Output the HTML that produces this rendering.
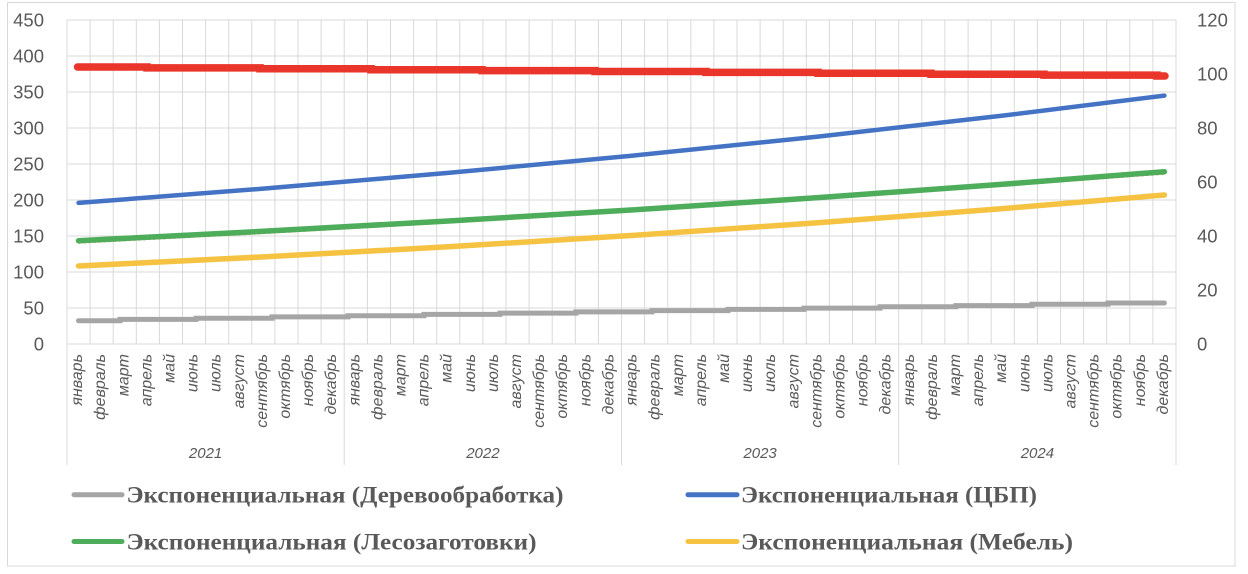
<!DOCTYPE html>
<html>
<head>
<meta charset="utf-8">
<style>
  html, body { margin: 0; padding: 0; background: #ffffff; }
  svg { display: block; }
  .tick { font-family: "Liberation Sans", sans-serif; font-size: 18.5px; fill: #595959; }
  .mon { font-family: "Liberation Sans", sans-serif; font-style: italic; font-size: 16px; fill: #595959; }
  .yr { font-family: "Liberation Sans", sans-serif; font-style: italic; font-size: 15px; fill: #595959; }
  .leg { font-family: "Liberation Serif", serif; font-weight: bold; font-size: 23.5px; fill: #595959; }
</style>
</head>
<body>
<svg width="1248" height="574" viewBox="0 0 1248 574" xmlns="http://www.w3.org/2000/svg">
  <rect x="0" y="0" width="1248" height="574" fill="#ffffff"/>
  <!-- outer border -->
  <rect x="7.5" y="2.5" width="1227.5" height="563.5" fill="none" stroke="#d9d9d9" stroke-width="1"/>

  <!-- horizontal gridlines -->
  <g stroke="#d9d9d9" stroke-width="1">
    <line x1="67" y1="20" x2="1176" y2="20"/>
    <line x1="67" y1="56" x2="1176" y2="56"/>
    <line x1="67" y1="92" x2="1176" y2="92"/>
    <line x1="67" y1="128" x2="1176" y2="128"/>
    <line x1="67" y1="164" x2="1176" y2="164"/>
    <line x1="67" y1="200" x2="1176" y2="200"/>
    <line x1="67" y1="236" x2="1176" y2="236"/>
    <line x1="67" y1="272" x2="1176" y2="272"/>
    <line x1="67" y1="308" x2="1176" y2="308"/>
    <line x1="67" y1="344" x2="1176" y2="344"/>
  </g>
  <!-- vertical gridlines -->
  <g stroke="#d9d9d9" stroke-width="1">
    <line x1="67" y1="20" x2="67" y2="465"/>
    <line x1="90.1" y1="20" x2="90.1" y2="344"/>
    <line x1="113.2" y1="20" x2="113.2" y2="344"/>
    <line x1="136.3" y1="20" x2="136.3" y2="344"/>
    <line x1="159.4" y1="20" x2="159.4" y2="344"/>
    <line x1="182.5" y1="20" x2="182.5" y2="344"/>
    <line x1="205.6" y1="20" x2="205.6" y2="344"/>
    <line x1="228.7" y1="20" x2="228.7" y2="344"/>
    <line x1="251.8" y1="20" x2="251.8" y2="344"/>
    <line x1="274.9" y1="20" x2="274.9" y2="344"/>
    <line x1="298" y1="20" x2="298" y2="344"/>
    <line x1="321.1" y1="20" x2="321.1" y2="344"/>
    <line x1="344.2" y1="20" x2="344.2" y2="465"/>
    <line x1="367.4" y1="20" x2="367.4" y2="344"/>
    <line x1="390.5" y1="20" x2="390.5" y2="344"/>
    <line x1="413.6" y1="20" x2="413.6" y2="344"/>
    <line x1="436.7" y1="20" x2="436.7" y2="344"/>
    <line x1="459.8" y1="20" x2="459.8" y2="344"/>
    <line x1="482.9" y1="20" x2="482.9" y2="344"/>
    <line x1="506" y1="20" x2="506" y2="344"/>
    <line x1="529.1" y1="20" x2="529.1" y2="344"/>
    <line x1="552.2" y1="20" x2="552.2" y2="344"/>
    <line x1="575.3" y1="20" x2="575.3" y2="344"/>
    <line x1="598.4" y1="20" x2="598.4" y2="344"/>
    <line x1="621.5" y1="20" x2="621.5" y2="465"/>
    <line x1="644.6" y1="20" x2="644.6" y2="344"/>
    <line x1="667.7" y1="20" x2="667.7" y2="344"/>
    <line x1="690.8" y1="20" x2="690.8" y2="344"/>
    <line x1="713.9" y1="20" x2="713.9" y2="344"/>
    <line x1="737" y1="20" x2="737" y2="344"/>
    <line x1="760.1" y1="20" x2="760.1" y2="344"/>
    <line x1="783.2" y1="20" x2="783.2" y2="344"/>
    <line x1="806.3" y1="20" x2="806.3" y2="344"/>
    <line x1="829.4" y1="20" x2="829.4" y2="344"/>
    <line x1="852.5" y1="20" x2="852.5" y2="344"/>
    <line x1="875.6" y1="20" x2="875.6" y2="344"/>
    <line x1="898.7" y1="20" x2="898.7" y2="465"/>
    <line x1="921.8" y1="20" x2="921.8" y2="344"/>
    <line x1="944.9" y1="20" x2="944.9" y2="344"/>
    <line x1="968.1" y1="20" x2="968.1" y2="344"/>
    <line x1="991.2" y1="20" x2="991.2" y2="344"/>
    <line x1="1014.3" y1="20" x2="1014.3" y2="344"/>
    <line x1="1037.4" y1="20" x2="1037.4" y2="344"/>
    <line x1="1060.5" y1="20" x2="1060.5" y2="344"/>
    <line x1="1083.6" y1="20" x2="1083.6" y2="344"/>
    <line x1="1106.7" y1="20" x2="1106.7" y2="344"/>
    <line x1="1129.8" y1="20" x2="1129.8" y2="344"/>
    <line x1="1152.9" y1="20" x2="1152.9" y2="344"/>
    <line x1="1176" y1="20" x2="1176" y2="465"/>
  </g>

  <!-- left axis labels -->
  <g class="tick" text-anchor="end">
    <text x="44" y="26.5">450</text>
    <text x="44" y="62.5">400</text>
    <text x="44" y="98.5">350</text>
    <text x="44" y="134.5">300</text>
    <text x="44" y="170.5">250</text>
    <text x="44" y="206.5">200</text>
    <text x="44" y="242.5">150</text>
    <text x="44" y="278.5">100</text>
    <text x="44" y="314.5">50</text>
    <text x="44" y="350.5">0</text>
  </g>
  <!-- right axis labels -->
  <g class="tick" text-anchor="start">
    <text x="1197" y="26.5">120</text>
    <text x="1197" y="80.5">100</text>
    <text x="1197" y="134.5">80</text>
    <text x="1197" y="188.5">60</text>
    <text x="1197" y="242.5">40</text>
    <text x="1197" y="296.5">20</text>
    <text x="1197" y="350.5">0</text>
  </g>

  <!-- month labels (rotated) -->
  <g class="mon" transform="rotate(-90)" text-anchor="end">
    <text x="-354" y="82.1">январь</text>
    <text x="-354" y="105.2">февраль</text>
    <text x="-354" y="128.3">март</text>
    <text x="-354" y="151.4">апрель</text>
    <text x="-354" y="174.5">май</text>
    <text x="-354" y="197.6">июнь</text>
    <text x="-354" y="220.7">июль</text>
    <text x="-354" y="243.8">август</text>
    <text x="-354" y="266.9">сентябрь</text>
    <text x="-354" y="290">октябрь</text>
    <text x="-354" y="313.1">ноябрь</text>
    <text x="-354" y="336.2">декабрь</text>
    <text x="-354" y="359.3">январь</text>
    <text x="-354" y="382.4">февраль</text>
    <text x="-354" y="405.5">март</text>
    <text x="-354" y="428.6">апрель</text>
    <text x="-354" y="451.7">май</text>
    <text x="-354" y="474.8">июнь</text>
    <text x="-354" y="497.9">июль</text>
    <text x="-354" y="521">август</text>
    <text x="-354" y="544.1">сентябрь</text>
    <text x="-354" y="567.2">октябрь</text>
    <text x="-354" y="590.3">ноябрь</text>
    <text x="-354" y="613.4">декабрь</text>
    <text x="-354" y="636.5">январь</text>
    <text x="-354" y="659.6">февраль</text>
    <text x="-354" y="682.8">март</text>
    <text x="-354" y="705.9">апрель</text>
    <text x="-354" y="729">май</text>
    <text x="-354" y="752.1">июнь</text>
    <text x="-354" y="775.2">июль</text>
    <text x="-354" y="798.3">август</text>
    <text x="-354" y="821.4">сентябрь</text>
    <text x="-354" y="844.5">октябрь</text>
    <text x="-354" y="867.6">ноябрь</text>
    <text x="-354" y="890.7">декабрь</text>
    <text x="-354" y="913.8">январь</text>
    <text x="-354" y="936.9">февраль</text>
    <text x="-354" y="960">март</text>
    <text x="-354" y="983.1">апрель</text>
    <text x="-354" y="1006.2">май</text>
    <text x="-354" y="1029.3">июнь</text>
    <text x="-354" y="1052.4">июль</text>
    <text x="-354" y="1075.5">август</text>
    <text x="-354" y="1098.6">сентябрь</text>
    <text x="-354" y="1121.7">октябрь</text>
    <text x="-354" y="1144.8">ноябрь</text>
    <text x="-354" y="1167.9">декабрь</text>
  </g>

  <!-- year labels -->
  <g class="yr" text-anchor="middle">
    <text x="205.6" y="458">2021</text>
    <text x="482.9" y="458">2022</text>
    <text x="760.1" y="458">2023</text>
    <text x="1037.4" y="458">2024</text>
  </g>

  <!-- series -->
  <!-- gray -->
  <path d="M78.5,320.7 H120 V319.4 H196 V318.2 H272 V316.9 H348 V315.7 H424 V314.4 H500 V313.1 H576 V311.9 H652 V310.6 H728 V309.4 H804 V308.1 H880 V306.8 H956 V305.6 H1032 V304.3 H1108 V303 H1164.4"
        fill="none" stroke="#a5a5a5" stroke-width="5" stroke-linecap="round"/>
  <!-- yellow -->
  <polyline points="78.55,266 263.4,256.9 448.2,246.8 633,235.4 817.9,222.8 1002.7,208.6 1164.4,195"
        fill="none" stroke="#f5c242" stroke-width="5.5" stroke-linecap="round" stroke-linejoin="round"/>
  <!-- orange dotted under green -->
  <polyline points="78.55,243 263.4,233.4 448.2,222.8 633,211.6 817.9,199.2 1002.7,185.9 1164.4,174"
        fill="none" stroke="#ed7d31" stroke-width="1.5" stroke-dasharray="2 3"/>
  <!-- green -->
  <polyline points="78.55,240.7 263.4,231.3 448.2,221 633,209.9 817.9,197.6 1002.7,184.3 1164.4,171.7"
        fill="none" stroke="#4dad5b" stroke-width="5.5" stroke-linecap="round" stroke-linejoin="round"/>
  <!-- blue -->
  <polyline points="78.55,202.9 263.4,188.6 448.2,172.9 633,155.6 817.9,136.6 1002.7,115.6 1164.4,95.6"
        fill="none" stroke="#4472c4" stroke-width="4.5" stroke-linecap="round" stroke-linejoin="round"/>
  <!-- red -->
  <path d="M77.5,67 H147 V67.9 H260 V68.8 H371 V69.7 H482 V70.6 H595 V71.5 H706 V72.4 H818 V73.3 H931 V74.2 H1044 V75.1 H1157 V76 H1165"
        fill="none" stroke="#e9352a" stroke-width="7.5" stroke-linecap="round"/>

  <!-- legend -->
  <line x1="74" y1="494.7" x2="122" y2="494.7" stroke="#a5a5a5" stroke-width="5" stroke-linecap="round"/>
  <text class="leg" x="126.5" y="502.5" textLength="437" lengthAdjust="spacingAndGlyphs">Экспоненциальная (Деревообработка)</text>

  <line x1="74" y1="541.5" x2="122" y2="541.5" stroke="#4dad5b" stroke-width="5" stroke-linecap="round"/>
  <text class="leg" x="126.5" y="549.5" textLength="410" lengthAdjust="spacingAndGlyphs">Экспоненциальная (Лесозаготовки)</text>

  <line x1="688" y1="494.7" x2="737" y2="494.7" stroke="#4472c4" stroke-width="5" stroke-linecap="round"/>
  <text class="leg" x="741" y="502.5" textLength="296" lengthAdjust="spacingAndGlyphs">Экспоненциальная (ЦБП)</text>

  <line x1="688" y1="541.5" x2="737" y2="541.5" stroke="#f5c242" stroke-width="5" stroke-linecap="round"/>
  <text class="leg" x="741" y="549.5" textLength="332" lengthAdjust="spacingAndGlyphs">Экспоненциальная (Мебель)</text>
</svg>
</body>
</html>
